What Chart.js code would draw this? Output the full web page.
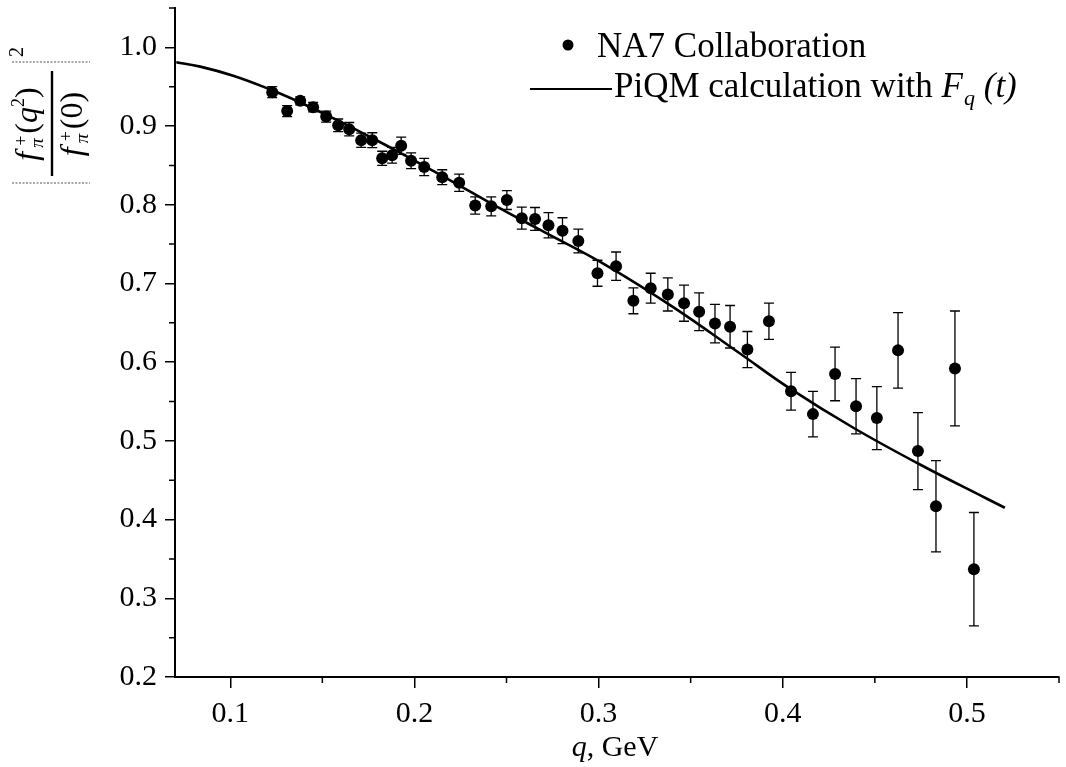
<!DOCTYPE html>
<html>
<head>
<meta charset="utf-8">
<script src="https://cdn.jsdelivr.net/npm/chart.js@4.4.1/dist/chart.umd.min.js"></script>
<style>
html,body{margin:0;padding:0;background:#fff;}
#wrap{width:1066px;height:767px;}
</style>
</head>
<body>
<div id="wrap"><canvas id="c" width="1066" height="767"></canvas></div>
<script>
// NA7 Collaboration data (q in GeV, ratio, error)
const qData = [0.1228,0.1309,0.1380,0.1450,0.1521,0.1586,0.1646,0.1711,0.1771,0.1825,0.1879,0.1928,0.1982,0.2053,0.2151,0.2243,0.2330,0.2417,0.2502,0.2583,0.2655,0.2728,0.2804,0.2890,0.2994,0.3095,0.3189,0.3283,0.3376,0.3464,0.3546,0.3632,0.3714,0.3808,0.3925,0.4045,0.4164,0.4284,0.4398,0.4511,0.4626,0.4734,0.4832,0.4935,0.5038];
const ratioData = [0.943,0.919,0.932,0.924,0.912,0.901,0.896,0.882,0.882,0.859,0.863,0.875,0.856,0.848,0.835,0.828,0.799,0.798,0.806,0.783,0.782,0.774,0.767,0.754,0.713,0.722,0.678,0.694,0.686,0.675,0.664,0.649,0.645,0.616,0.652,0.563,0.534,0.585,0.544,0.529,0.615,0.487,0.417,0.592,0.337];
const errData = [0.007,0.007,0.005,0.006,0.007,0.008,0.0085,0.009,0.0095,0.009,0.010,0.011,0.010,0.011,0.0095,0.011,0.011,0.012,0.012,0.014,0.0145,0.016,0.0165,0.015,0.0165,0.018,0.0165,0.019,0.021,0.023,0.024,0.0245,0.027,0.023,0.023,0.024,0.029,0.034,0.035,0.040,0.048,0.049,0.058,0.073,0.072];
// PiQM calculation curve
const curveQ = [0.0707,0.0837,0.1016,0.1201,0.1380,0.1559,0.1744,0.1923,0.2102,0.2286,0.2465,0.2683,0.3046,0.3405,0.3768,0.4023,0.4381,0.4745,0.5109,0.5206];
const curveVal = [0.981,0.9755,0.964,0.948,0.930,0.910,0.888,0.866,0.843,0.819,0.7955,0.768,0.7225,0.670,0.611,0.569,0.517,0.470,0.4265,0.415];
// Axes
const xTicks = [0.1,0.2,0.3,0.4,0.5];
const xMinorTicks = [0.15,0.25,0.35,0.45,0.55];
const yTicks = [0.2,0.3,0.4,0.5,0.6,0.7,0.8,0.9,1.0];
const yMinorTicks = [0.25,0.35,0.45,0.55,0.65,0.75,0.85,0.95,1.05];

const SERIF = "'Liberation Serif','Times New Roman',serif";

const decor = {
  id:'decor',
  beforeDatasetsDraw(chart){
    const ctx = chart.ctx, xs = chart.scales.x, ys = chart.scales.y;
    ctx.save();
    ctx.strokeStyle = '#000'; ctx.lineWidth = 1.3;
    for(let i=0;i<qData.length;i++){
      const px = xs.getPixelForValue(qData[i]);
      const top = ys.getPixelForValue(ratioData[i]+errData[i]);
      const bot = ys.getPixelForValue(ratioData[i]-errData[i]);
      ctx.beginPath();
      ctx.moveTo(px,top); ctx.lineTo(px,bot);
      ctx.moveTo(px-5,top); ctx.lineTo(px+5,top);
      ctx.moveTo(px-5,bot); ctx.lineTo(px+5,bot);
      ctx.stroke();
    }
    ctx.restore();
  },
  afterDraw(chart){
    const ctx = chart.ctx, xs = chart.scales.x, ys = chart.scales.y, a = chart.chartArea;
    ctx.save();
    ctx.strokeStyle='#000'; ctx.lineWidth=1.5;
    // minor ticks
    ctx.beginPath();
    xMinorTicks.forEach(v=>{const p=xs.getPixelForValue(v); ctx.moveTo(p,a.bottom); ctx.lineTo(p,a.bottom+6);});
    yMinorTicks.forEach(v=>{const p=ys.getPixelForValue(v); ctx.moveTo(a.left,p); ctx.lineTo(a.left-6,p);});
    ctx.stroke();
    ctx.fillStyle='#000';
    ctx.textBaseline='alphabetic';
    // legend
    ctx.beginPath(); ctx.arc(568,45,5.5,0,Math.PI*2); ctx.fill();
    ctx.font = "35px "+SERIF; ctx.textAlign='left';
    ctx.fillText('NA7 Collaboration',597,57);
    ctx.lineWidth=2.2;
    ctx.beginPath(); ctx.moveTo(530,89); ctx.lineTo(612,89); ctx.stroke();
    let x = 614;
    const t1 = 'PiQM calculation with ';
    ctx.fillText(t1,x,97); x += ctx.measureText(t1).width;
    ctx.font = "italic 35px "+SERIF; ctx.fillText('F',x,97); x += ctx.measureText('F').width+1;
    ctx.font = "italic 22px "+SERIF; ctx.fillText('q',x,105); x += ctx.measureText('q').width;
    ctx.font = "italic 35px "+SERIF; ctx.fillText(' (t)',x,97);
    // x title
    ctx.font = "italic 30px "+SERIF;
    const wq = ctx.measureText('q').width;
    ctx.font = "30px "+SERIF;
    const wr = ctx.measureText(', GeV').width;
    let sx = 615 - (wq+wr)/2;
    ctx.font = "italic 30px "+SERIF; ctx.fillText('q',sx,756);
    ctx.font = "30px "+SERIF; ctx.fillText(', GeV',sx+wq,756);
    // y title (rotated)
    ctx.translate(52,124); ctx.rotate(-Math.PI/2);
    const drawParts = (parts, baseline) => {
      let w = 0;
      parts.forEach(p=>{ctx.font=p.f; w += p.adv!==undefined ? p.adv : ctx.measureText(p.t).width;});
      let cx = -w/2;
      parts.forEach(p=>{ctx.font=p.f; ctx.fillText(p.t,cx+(p.dx||0),baseline+(p.dy||0)); cx += p.adv!==undefined ? p.adv : ctx.measureText(p.t).width;});
    };
    const I = "italic 32px "+SERIF, R = "32px "+SERIF, SI = "italic 19px "+SERIF, SR = "18px "+SERIF;
    drawParts([
      {t:'f',f:I,adv:12},{t:'π',f:SI,dy:6,dx:1,adv:0},{t:'+',f:SR,dy:-10,dx:3,adv:15},
      {t:'(',f:R},{t:'q',f:I},{t:'2',f:SR,dy:-13},{t:')',f:R}
    ], -15);
    drawParts([
      {t:'f',f:I,adv:12},{t:'π',f:SI,dy:6,dx:1,adv:0},{t:'+',f:SR,dy:-10,dx:3,adv:15},
      {t:'(',f:R},{t:'0',f:R},{t:')',f:R}
    ], 30);
    ctx.lineWidth=2.4;
    ctx.beginPath(); ctx.moveTo(-52,0); ctx.lineTo(53,0); ctx.stroke();
    ctx.lineWidth=1.2; ctx.strokeStyle='#555'; ctx.setLineDash([2,1.5]);
    ctx.beginPath();
    ctx.moveTo(-59,-40); ctx.lineTo(-59,38);
    ctx.moveTo(62,-40); ctx.lineTo(62,38);
    ctx.stroke();
    ctx.setLineDash([]);
    ctx.font = "20px "+SERIF; ctx.textAlign='center';
    ctx.fillText('2',72,-29);
    ctx.restore();
  }
};

new Chart(document.getElementById('c'), {
  type:'scatter',
  data:{
    datasets:[
      {label:'PiQM calculation with Fq (t)', type:'line', data:curveQ.map((q,i)=>({x:q,y:curveVal[i]})),
       borderColor:'#000', borderWidth:2.6, pointRadius:0, fill:false, tension:0.4, order:2},
      {label:'NA7 Collaboration', data:qData.map((q,i)=>({x:q,y:ratioData[i]})),
       backgroundColor:'#000', borderColor:'#000', pointRadius:6, pointBorderWidth:0, order:1}
    ]
  },
  options:{
    responsive:false, animation:false, devicePixelRatio:1,
    layout:{padding:{left:0,top:8,right:7,bottom:0}},
    plugins:{legend:{display:false}, tooltip:{enabled:false}},
    scales:{
      x:{type:'linear', min:0.07, max:0.55,
        afterBuildTicks:s=>{s.ticks = xTicks.map(v=>({value:v}));},
        afterFit:s=>{s.height=90; s.paddingLeft=0; s.paddingRight=0;},
        grid:{drawOnChartArea:false, drawTicks:true, tickLength:11, color:'#000', lineWidth:1.5},
        border:{display:true, color:'#000', width:2},
        ticks:{color:'#000', font:{family:SERIF, size:30}, padding:8, maxRotation:0, callback:v=>v.toFixed(1)}
      },
      y:{type:'linear', min:0.2, max:1.05,
        afterBuildTicks:s=>{s.ticks = yTicks.map(v=>({value:v}));},
        afterFit:s=>{s.width=175; s.paddingTop=0; s.paddingBottom=0;},
        grid:{drawOnChartArea:false, drawTicks:true, tickLength:10, color:'#000', lineWidth:1.5},
        border:{display:true, color:'#000', width:2},
        ticks:{color:'#000', font:{family:SERIF, size:30}, padding:8, callback:v=>v.toFixed(1)}
      }
    }
  },
  plugins:[decor]
});
</script>
</body>
</html>
